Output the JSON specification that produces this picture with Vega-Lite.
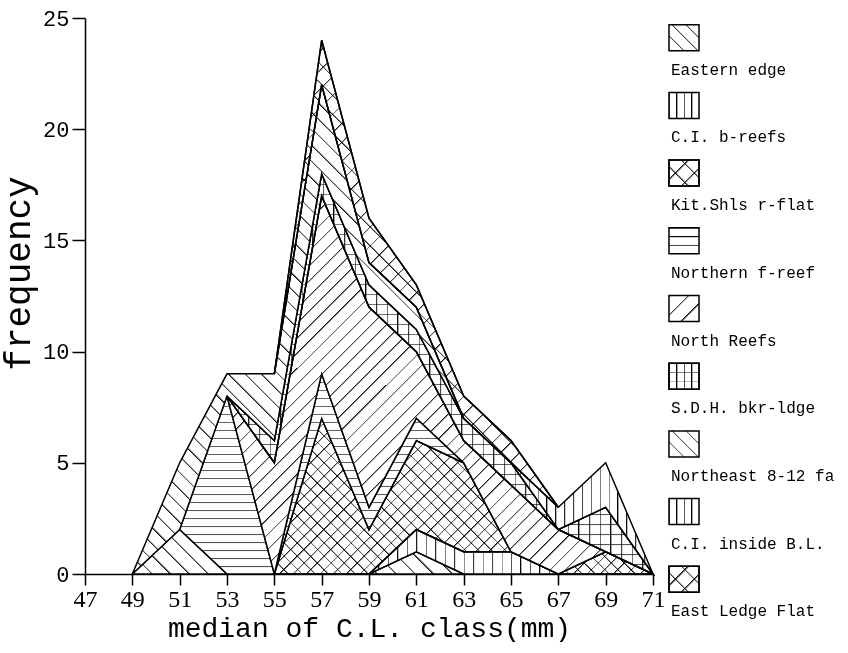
{
"$schema":"https://vega.github.io/schema/vega-lite/v6.json",
"background":"white",
"padding":{"left":0,"top":7,"right":0,"bottom":0},
"bounds":"flush",
"spacing":16,
"config":{"view":{"stroke":null},"font":"Liberation Mono"},
"datasets":{
"d":[
{"s":"Eastern edge","k":1,"x":49,"v":0},{"s":"Eastern edge","k":1,"x":51,"v":2},{"s":"Eastern edge","k":1,"x":53,"v":0},{"s":"Eastern edge","k":1,"x":55,"v":0},{"s":"Eastern edge","k":1,"x":57,"v":0},{"s":"Eastern edge","k":1,"x":59,"v":0},{"s":"Eastern edge","k":1,"x":61,"v":1},{"s":"Eastern edge","k":1,"x":63,"v":0},
{"s":"C.I. b-reefs","k":2,"x":59,"v":0},{"s":"C.I. b-reefs","k":2,"x":61,"v":1},{"s":"C.I. b-reefs","k":2,"x":63,"v":1},{"s":"C.I. b-reefs","k":2,"x":65,"v":1},{"s":"C.I. b-reefs","k":2,"x":67,"v":0},
{"s":"Kit.Shls r-flat","k":3,"x":55,"v":0},{"s":"Kit.Shls r-flat","k":3,"x":57,"v":7},{"s":"Kit.Shls r-flat","k":3,"x":59,"v":2},{"s":"Kit.Shls r-flat","k":3,"x":61,"v":4},{"s":"Kit.Shls r-flat","k":3,"x":63,"v":4},{"s":"Kit.Shls r-flat","k":3,"x":65,"v":0},{"s":"Kit.Shls r-flat","k":3,"x":67,"v":0},{"s":"Kit.Shls r-flat","k":3,"x":69,"v":1},{"s":"Kit.Shls r-flat","k":3,"x":71,"v":0},
{"s":"Northern f-reef","k":4,"x":51,"v":0},{"s":"Northern f-reef","k":4,"x":53,"v":8},{"s":"Northern f-reef","k":4,"x":55,"v":0},{"s":"Northern f-reef","k":4,"x":57,"v":2},{"s":"Northern f-reef","k":4,"x":59,"v":1},{"s":"Northern f-reef","k":4,"x":61,"v":1},{"s":"Northern f-reef","k":4,"x":63,"v":0},
{"s":"North Reefs","k":5,"x":53,"v":0},{"s":"North Reefs","k":5,"x":55,"v":5},{"s":"North Reefs","k":5,"x":57,"v":8},{"s":"North Reefs","k":5,"x":59,"v":9},{"s":"North Reefs","k":5,"x":61,"v":3},{"s":"North Reefs","k":5,"x":63,"v":1},{"s":"North Reefs","k":5,"x":65,"v":3},{"s":"North Reefs","k":5,"x":67,"v":2},{"s":"North Reefs","k":5,"x":69,"v":0},
{"s":"S.D.H. bkr-ldge","k":6,"x":53,"v":0},{"s":"S.D.H. bkr-ldge","k":6,"x":55,"v":1},{"s":"S.D.H. bkr-ldge","k":6,"x":57,"v":1},{"s":"S.D.H. bkr-ldge","k":6,"x":59,"v":1},{"s":"S.D.H. bkr-ldge","k":6,"x":61,"v":1},{"s":"S.D.H. bkr-ldge","k":6,"x":63,"v":1},{"s":"S.D.H. bkr-ldge","k":6,"x":65,"v":1},{"s":"S.D.H. bkr-ldge","k":6,"x":67,"v":0},{"s":"S.D.H. bkr-ldge","k":6,"x":69,"v":2},{"s":"S.D.H. bkr-ldge","k":6,"x":71,"v":0},
{"s":"Northeast 8-12 fa","k":7,"x":49,"v":0},{"s":"Northeast 8-12 fa","k":7,"x":51,"v":3},{"s":"Northeast 8-12 fa","k":7,"x":53,"v":1},{"s":"Northeast 8-12 fa","k":7,"x":55,"v":3},{"s":"Northeast 8-12 fa","k":7,"x":57,"v":4},{"s":"Northeast 8-12 fa","k":7,"x":59,"v":1},{"s":"Northeast 8-12 fa","k":7,"x":61,"v":1},{"s":"Northeast 8-12 fa","k":7,"x":63,"v":0},
{"s":"C.I. inside B.L.","k":8,"x":65,"v":0},{"s":"C.I. inside B.L.","k":8,"x":67,"v":1},{"s":"C.I. inside B.L.","k":8,"x":69,"v":2},{"s":"C.I. inside B.L.","k":8,"x":71,"v":0},
{"s":"East Ledge Flat","k":9,"x":55,"v":0},{"s":"East Ledge Flat","k":9,"x":57,"v":2},{"s":"East Ledge Flat","k":9,"x":59,"v":2},{"s":"East Ledge Flat","k":9,"x":61,"v":1},{"s":"East Ledge Flat","k":9,"x":63,"v":1},{"s":"East Ledge Flat","k":9,"x":65,"v":1},{"s":"East Ledge Flat","k":9,"x":67,"v":0}
],
"leg":[
{"s":"Eastern edge","k":1},{"s":"C.I. b-reefs","k":2},{"s":"Kit.Shls r-flat","k":3},{"s":"Northern f-reef","k":4},{"s":"North Reefs","k":5},{"s":"S.D.H. bkr-ldge","k":6},{"s":"Northeast 8-12 fa","k":7},{"s":"C.I. inside B.L.","k":8},{"s":"East Ledge Flat","k":9}
]
},
"hconcat":[
{
"width":568,"height":556,
"data":{"name":"d"},
"transform":[{"stack":"v","groupby":["x"],"sort":[{"field":"k","order":"ascending"}],"as":["y0","y1"]}],
"encoding":{
"x":{"field":"x","type":"quantitative","scale":{"domain":[47,71],"nice":false,"zero":false},
"axis":{"values":[47,49,51,53,55,57,59,61,63,65,67,69,71],"title":"median of C.L. class(mm)","grid":false,"tickSize":11,"tickWidth":1.5,"tickColor":"black","domainColor":"black","domainWidth":1.5,"labelPadding":2,"labelFont":"Liberation Serif","labelFontSize":24,"labelColor":"black","labelFlush":false,"titleFont":"Liberation Mono","titleFontSize":28,"titleFontWeight":"normal","titleColor":"black","titlePadding":3}},
"y":{"field":"y1","type":"quantitative","scale":{"domain":[0,25],"nice":false},
"axis":{"values":[0,5,10,15,20,25],"title":"frequency","titleY":255,"grid":false,"tickSize":13,"tickWidth":1.5,"tickColor":"black","domainColor":"black","domainWidth":1.5,"labelPadding":3,"labelFont":"Liberation Mono","labelFontSize":22,"labelColor":"black","labelFlush":false,"titleFont":"Liberation Mono","titleFontSize":36,"titleFontWeight":"normal","titleColor":"black","titlePadding":5}},
"y2":{"field":"y0"}
},
"layer":[
{"transform":[{"filter":{"field":"k","equal":1}}],"mark":{"type":"area","interpolate":"linear","stroke":"black","strokeWidth":1.5,"fill":{"gradient":"linear","x1":0,"y1":1,"x2":1.114,"y2":0.85,"stops":[
{"offset":0,"color":"#000"},{"offset":0.007,"color":"#fff"},{"offset":0.05,"color":"#fff"},{"offset":0.05,"color":"#000"},{"offset":0.057,"color":"#fff"},{"offset":0.1,"color":"#fff"},{"offset":0.1,"color":"#000"},{"offset":0.107,"color":"#fff"},{"offset":0.15,"color":"#fff"},{"offset":0.15,"color":"#000"},{"offset":0.157,"color":"#fff"},{"offset":0.2,"color":"#fff"},{"offset":0.2,"color":"#000"},{"offset":0.207,"color":"#fff"},{"offset":0.25,"color":"#fff"},{"offset":0.25,"color":"#000"},{"offset":0.257,"color":"#fff"},{"offset":0.3,"color":"#fff"},{"offset":0.3,"color":"#000"},{"offset":0.307,"color":"#fff"},{"offset":0.35,"color":"#fff"},{"offset":0.35,"color":"#000"},{"offset":0.357,"color":"#fff"},{"offset":0.4,"color":"#fff"},{"offset":0.4,"color":"#000"},{"offset":0.407,"color":"#fff"},{"offset":0.45,"color":"#fff"},{"offset":0.45,"color":"#000"},{"offset":0.457,"color":"#fff"},{"offset":0.5,"color":"#fff"},{"offset":0.5,"color":"#000"},{"offset":0.507,"color":"#fff"},{"offset":0.55,"color":"#fff"},{"offset":0.55,"color":"#000"},{"offset":0.557,"color":"#fff"},{"offset":0.6,"color":"#fff"},{"offset":0.6,"color":"#000"},{"offset":0.607,"color":"#fff"},{"offset":0.65,"color":"#fff"},{"offset":0.65,"color":"#000"},{"offset":0.657,"color":"#fff"},{"offset":0.7,"color":"#fff"},{"offset":0.7,"color":"#000"},{"offset":0.707,"color":"#fff"},{"offset":0.75,"color":"#fff"},{"offset":0.75,"color":"#000"},{"offset":0.757,"color":"#fff"},{"offset":0.8,"color":"#fff"},{"offset":0.8,"color":"#000"},{"offset":0.807,"color":"#fff"},{"offset":0.85,"color":"#fff"},{"offset":0.85,"color":"#000"},{"offset":0.857,"color":"#fff"},{"offset":0.9,"color":"#fff"},{"offset":0.9,"color":"#000"},{"offset":0.907,"color":"#fff"},{"offset":0.95,"color":"#fff"},{"offset":0.95,"color":"#000"},{"offset":0.957,"color":"#fff"},{"offset":1,"color":"#fff"}]}}},
{"transform":[{"filter":{"field":"k","equal":2}}],"mark":{"type":"area","interpolate":"linear","stroke":"black","strokeWidth":1.5,"fill":{"gradient":"linear","x1":0,"y1":0,"x2":1,"y2":0,"stops":[
{"offset":0,"color":"#000"},{"offset":0.008,"color":"#fff"},{"offset":0.05,"color":"#fff"},{"offset":0.05,"color":"#000"},{"offset":0.058,"color":"#fff"},{"offset":0.1,"color":"#fff"},{"offset":0.1,"color":"#000"},{"offset":0.108,"color":"#fff"},{"offset":0.15,"color":"#fff"},{"offset":0.15,"color":"#000"},{"offset":0.158,"color":"#fff"},{"offset":0.2,"color":"#fff"},{"offset":0.2,"color":"#000"},{"offset":0.208,"color":"#fff"},{"offset":0.25,"color":"#fff"},{"offset":0.25,"color":"#000"},{"offset":0.258,"color":"#fff"},{"offset":0.3,"color":"#fff"},{"offset":0.3,"color":"#000"},{"offset":0.308,"color":"#fff"},{"offset":0.35,"color":"#fff"},{"offset":0.35,"color":"#000"},{"offset":0.358,"color":"#fff"},{"offset":0.4,"color":"#fff"},{"offset":0.4,"color":"#000"},{"offset":0.408,"color":"#fff"},{"offset":0.45,"color":"#fff"},{"offset":0.45,"color":"#000"},{"offset":0.458,"color":"#fff"},{"offset":0.5,"color":"#fff"},{"offset":0.5,"color":"#000"},{"offset":0.508,"color":"#fff"},{"offset":0.55,"color":"#fff"},{"offset":0.55,"color":"#000"},{"offset":0.558,"color":"#fff"},{"offset":0.6,"color":"#fff"},{"offset":0.6,"color":"#000"},{"offset":0.608,"color":"#fff"},{"offset":0.65,"color":"#fff"},{"offset":0.65,"color":"#000"},{"offset":0.658,"color":"#fff"},{"offset":0.7,"color":"#fff"},{"offset":0.7,"color":"#000"},{"offset":0.708,"color":"#fff"},{"offset":0.75,"color":"#fff"},{"offset":0.75,"color":"#000"},{"offset":0.758,"color":"#fff"},{"offset":0.8,"color":"#fff"},{"offset":0.8,"color":"#000"},{"offset":0.808,"color":"#fff"},{"offset":0.85,"color":"#fff"},{"offset":0.85,"color":"#000"},{"offset":0.858,"color":"#fff"},{"offset":0.9,"color":"#fff"},{"offset":0.9,"color":"#000"},{"offset":0.908,"color":"#fff"},{"offset":0.95,"color":"#fff"},{"offset":0.95,"color":"#000"},{"offset":0.958,"color":"#fff"},{"offset":1,"color":"#fff"}]}}},
{"transform":[{"filter":{"field":"k","equal":3}}],"mark":{"type":"area","interpolate":"linear","stroke":"black","strokeWidth":1.5,"fill":{"gradient":"linear","x1":0,"y1":1,"x2":1.207,"y2":0.504,"stops":[
{"offset":0,"color":"#000"},{"offset":0.004,"color":"#fff"},{"offset":0.025,"color":"#fff"},{"offset":0.025,"color":"#000"},{"offset":0.029,"color":"#fff"},{"offset":0.05,"color":"#fff"},{"offset":0.05,"color":"#000"},{"offset":0.054,"color":"#fff"},{"offset":0.075,"color":"#fff"},{"offset":0.075,"color":"#000"},{"offset":0.079,"color":"#fff"},{"offset":0.1,"color":"#fff"},{"offset":0.1,"color":"#000"},{"offset":0.104,"color":"#fff"},{"offset":0.125,"color":"#fff"},{"offset":0.125,"color":"#000"},{"offset":0.129,"color":"#fff"},{"offset":0.15,"color":"#fff"},{"offset":0.15,"color":"#000"},{"offset":0.154,"color":"#fff"},{"offset":0.175,"color":"#fff"},{"offset":0.175,"color":"#000"},{"offset":0.179,"color":"#fff"},{"offset":0.2,"color":"#fff"},{"offset":0.2,"color":"#000"},{"offset":0.204,"color":"#fff"},{"offset":0.225,"color":"#fff"},{"offset":0.225,"color":"#000"},{"offset":0.229,"color":"#fff"},{"offset":0.25,"color":"#fff"},{"offset":0.25,"color":"#000"},{"offset":0.254,"color":"#fff"},{"offset":0.275,"color":"#fff"},{"offset":0.275,"color":"#000"},{"offset":0.279,"color":"#fff"},{"offset":0.3,"color":"#fff"},{"offset":0.3,"color":"#000"},{"offset":0.304,"color":"#fff"},{"offset":0.325,"color":"#fff"},{"offset":0.325,"color":"#000"},{"offset":0.329,"color":"#fff"},{"offset":0.35,"color":"#fff"},{"offset":0.35,"color":"#000"},{"offset":0.354,"color":"#fff"},{"offset":0.375,"color":"#fff"},{"offset":0.375,"color":"#000"},{"offset":0.379,"color":"#fff"},{"offset":0.4,"color":"#fff"},{"offset":0.4,"color":"#000"},{"offset":0.404,"color":"#fff"},{"offset":0.425,"color":"#fff"},{"offset":0.425,"color":"#000"},{"offset":0.429,"color":"#fff"},{"offset":0.45,"color":"#fff"},{"offset":0.45,"color":"#000"},{"offset":0.454,"color":"#fff"},{"offset":0.475,"color":"#fff"},{"offset":0.475,"color":"#000"},{"offset":0.479,"color":"#fff"},{"offset":0.5,"color":"#fff"},{"offset":0.5,"color":"#000"},{"offset":0.504,"color":"#fff"},{"offset":0.525,"color":"#fff"},{"offset":0.525,"color":"#000"},{"offset":0.529,"color":"#fff"},{"offset":0.55,"color":"#fff"},{"offset":0.55,"color":"#000"},{"offset":0.554,"color":"#fff"},{"offset":0.575,"color":"#fff"},{"offset":0.575,"color":"#000"},{"offset":0.579,"color":"#fff"},{"offset":0.6,"color":"#fff"},{"offset":0.6,"color":"#000"},{"offset":0.604,"color":"#fff"},{"offset":0.625,"color":"#fff"},{"offset":0.625,"color":"#000"},{"offset":0.629,"color":"#fff"},{"offset":0.65,"color":"#fff"},{"offset":0.65,"color":"#000"},{"offset":0.654,"color":"#fff"},{"offset":0.675,"color":"#fff"},{"offset":0.675,"color":"#000"},{"offset":0.679,"color":"#fff"},{"offset":0.7,"color":"#fff"},{"offset":0.7,"color":"#000"},{"offset":0.704,"color":"#fff"},{"offset":0.725,"color":"#fff"},{"offset":0.725,"color":"#000"},{"offset":0.729,"color":"#fff"},{"offset":0.75,"color":"#fff"},{"offset":0.75,"color":"#000"},{"offset":0.754,"color":"#fff"},{"offset":0.775,"color":"#fff"},{"offset":0.775,"color":"#000"},{"offset":0.779,"color":"#fff"},{"offset":0.8,"color":"#fff"},{"offset":0.8,"color":"#000"},{"offset":0.804,"color":"#fff"},{"offset":0.825,"color":"#fff"},{"offset":0.825,"color":"#000"},{"offset":0.829,"color":"#fff"},{"offset":0.85,"color":"#fff"},{"offset":0.85,"color":"#000"},{"offset":0.854,"color":"#fff"},{"offset":0.875,"color":"#fff"},{"offset":0.875,"color":"#000"},{"offset":0.879,"color":"#fff"},{"offset":0.9,"color":"#fff"},{"offset":0.9,"color":"#000"},{"offset":0.904,"color":"#fff"},{"offset":0.925,"color":"#fff"},{"offset":0.925,"color":"#000"},{"offset":0.929,"color":"#fff"},{"offset":0.95,"color":"#fff"},{"offset":0.95,"color":"#000"},{"offset":0.954,"color":"#fff"},{"offset":0.975,"color":"#fff"},{"offset":0.975,"color":"#000"},{"offset":0.979,"color":"#fff"},{"offset":1,"color":"#fff"}]}}},
{"transform":[{"filter":{"field":"k","equal":3}}],"mark":{"type":"area","interpolate":"linear","stroke":"black","strokeWidth":1.5,"blend":"multiply","fill":{"gradient":"linear","x1":0,"y1":0,"x2":1.207,"y2":0.496,"stops":[
{"offset":0,"color":"#000"},{"offset":0.004,"color":"#fff"},{"offset":0.025,"color":"#fff"},{"offset":0.025,"color":"#000"},{"offset":0.029,"color":"#fff"},{"offset":0.05,"color":"#fff"},{"offset":0.05,"color":"#000"},{"offset":0.054,"color":"#fff"},{"offset":0.075,"color":"#fff"},{"offset":0.075,"color":"#000"},{"offset":0.079,"color":"#fff"},{"offset":0.1,"color":"#fff"},{"offset":0.1,"color":"#000"},{"offset":0.104,"color":"#fff"},{"offset":0.125,"color":"#fff"},{"offset":0.125,"color":"#000"},{"offset":0.129,"color":"#fff"},{"offset":0.15,"color":"#fff"},{"offset":0.15,"color":"#000"},{"offset":0.154,"color":"#fff"},{"offset":0.175,"color":"#fff"},{"offset":0.175,"color":"#000"},{"offset":0.179,"color":"#fff"},{"offset":0.2,"color":"#fff"},{"offset":0.2,"color":"#000"},{"offset":0.204,"color":"#fff"},{"offset":0.225,"color":"#fff"},{"offset":0.225,"color":"#000"},{"offset":0.229,"color":"#fff"},{"offset":0.25,"color":"#fff"},{"offset":0.25,"color":"#000"},{"offset":0.254,"color":"#fff"},{"offset":0.275,"color":"#fff"},{"offset":0.275,"color":"#000"},{"offset":0.279,"color":"#fff"},{"offset":0.3,"color":"#fff"},{"offset":0.3,"color":"#000"},{"offset":0.304,"color":"#fff"},{"offset":0.325,"color":"#fff"},{"offset":0.325,"color":"#000"},{"offset":0.329,"color":"#fff"},{"offset":0.35,"color":"#fff"},{"offset":0.35,"color":"#000"},{"offset":0.354,"color":"#fff"},{"offset":0.375,"color":"#fff"},{"offset":0.375,"color":"#000"},{"offset":0.379,"color":"#fff"},{"offset":0.4,"color":"#fff"},{"offset":0.4,"color":"#000"},{"offset":0.404,"color":"#fff"},{"offset":0.425,"color":"#fff"},{"offset":0.425,"color":"#000"},{"offset":0.429,"color":"#fff"},{"offset":0.45,"color":"#fff"},{"offset":0.45,"color":"#000"},{"offset":0.454,"color":"#fff"},{"offset":0.475,"color":"#fff"},{"offset":0.475,"color":"#000"},{"offset":0.479,"color":"#fff"},{"offset":0.5,"color":"#fff"},{"offset":0.5,"color":"#000"},{"offset":0.504,"color":"#fff"},{"offset":0.525,"color":"#fff"},{"offset":0.525,"color":"#000"},{"offset":0.529,"color":"#fff"},{"offset":0.55,"color":"#fff"},{"offset":0.55,"color":"#000"},{"offset":0.554,"color":"#fff"},{"offset":0.575,"color":"#fff"},{"offset":0.575,"color":"#000"},{"offset":0.579,"color":"#fff"},{"offset":0.6,"color":"#fff"},{"offset":0.6,"color":"#000"},{"offset":0.604,"color":"#fff"},{"offset":0.625,"color":"#fff"},{"offset":0.625,"color":"#000"},{"offset":0.629,"color":"#fff"},{"offset":0.65,"color":"#fff"},{"offset":0.65,"color":"#000"},{"offset":0.654,"color":"#fff"},{"offset":0.675,"color":"#fff"},{"offset":0.675,"color":"#000"},{"offset":0.679,"color":"#fff"},{"offset":0.7,"color":"#fff"},{"offset":0.7,"color":"#000"},{"offset":0.704,"color":"#fff"},{"offset":0.725,"color":"#fff"},{"offset":0.725,"color":"#000"},{"offset":0.729,"color":"#fff"},{"offset":0.75,"color":"#fff"},{"offset":0.75,"color":"#000"},{"offset":0.754,"color":"#fff"},{"offset":0.775,"color":"#fff"},{"offset":0.775,"color":"#000"},{"offset":0.779,"color":"#fff"},{"offset":0.8,"color":"#fff"},{"offset":0.8,"color":"#000"},{"offset":0.804,"color":"#fff"},{"offset":0.825,"color":"#fff"},{"offset":0.825,"color":"#000"},{"offset":0.829,"color":"#fff"},{"offset":0.85,"color":"#fff"},{"offset":0.85,"color":"#000"},{"offset":0.854,"color":"#fff"},{"offset":0.875,"color":"#fff"},{"offset":0.875,"color":"#000"},{"offset":0.879,"color":"#fff"},{"offset":0.9,"color":"#fff"},{"offset":0.9,"color":"#000"},{"offset":0.904,"color":"#fff"},{"offset":0.925,"color":"#fff"},{"offset":0.925,"color":"#000"},{"offset":0.929,"color":"#fff"},{"offset":0.95,"color":"#fff"},{"offset":0.95,"color":"#000"},{"offset":0.954,"color":"#fff"},{"offset":0.975,"color":"#fff"},{"offset":0.975,"color":"#000"},{"offset":0.979,"color":"#fff"},{"offset":1,"color":"#fff"}]}}},
{"transform":[{"filter":{"field":"k","equal":4}}],"mark":{"type":"area","interpolate":"linear","stroke":"black","strokeWidth":1.5,"fill":{"gradient":"linear","x1":0,"y1":0,"x2":0,"y2":1,"stops":[
{"offset":0,"color":"#000"},{"offset":0.008,"color":"#fff"},{"offset":0.04,"color":"#fff"},{"offset":0.04,"color":"#000"},{"offset":0.048,"color":"#fff"},{"offset":0.08,"color":"#fff"},{"offset":0.08,"color":"#000"},{"offset":0.088,"color":"#fff"},{"offset":0.12,"color":"#fff"},{"offset":0.12,"color":"#000"},{"offset":0.128,"color":"#fff"},{"offset":0.16,"color":"#fff"},{"offset":0.16,"color":"#000"},{"offset":0.168,"color":"#fff"},{"offset":0.2,"color":"#fff"},{"offset":0.2,"color":"#000"},{"offset":0.208,"color":"#fff"},{"offset":0.24,"color":"#fff"},{"offset":0.24,"color":"#000"},{"offset":0.248,"color":"#fff"},{"offset":0.28,"color":"#fff"},{"offset":0.28,"color":"#000"},{"offset":0.288,"color":"#fff"},{"offset":0.32,"color":"#fff"},{"offset":0.32,"color":"#000"},{"offset":0.328,"color":"#fff"},{"offset":0.36,"color":"#fff"},{"offset":0.36,"color":"#000"},{"offset":0.368,"color":"#fff"},{"offset":0.4,"color":"#fff"},{"offset":0.4,"color":"#000"},{"offset":0.408,"color":"#fff"},{"offset":0.44,"color":"#fff"},{"offset":0.44,"color":"#000"},{"offset":0.448,"color":"#fff"},{"offset":0.48,"color":"#fff"},{"offset":0.48,"color":"#000"},{"offset":0.488,"color":"#fff"},{"offset":0.52,"color":"#fff"},{"offset":0.52,"color":"#000"},{"offset":0.528,"color":"#fff"},{"offset":0.56,"color":"#fff"},{"offset":0.56,"color":"#000"},{"offset":0.568,"color":"#fff"},{"offset":0.6,"color":"#fff"},{"offset":0.6,"color":"#000"},{"offset":0.608,"color":"#fff"},{"offset":0.64,"color":"#fff"},{"offset":0.64,"color":"#000"},{"offset":0.648,"color":"#fff"},{"offset":0.68,"color":"#fff"},{"offset":0.68,"color":"#000"},{"offset":0.688,"color":"#fff"},{"offset":0.72,"color":"#fff"},{"offset":0.72,"color":"#000"},{"offset":0.728,"color":"#fff"},{"offset":0.76,"color":"#fff"},{"offset":0.76,"color":"#000"},{"offset":0.768,"color":"#fff"},{"offset":0.8,"color":"#fff"},{"offset":0.8,"color":"#000"},{"offset":0.808,"color":"#fff"},{"offset":0.84,"color":"#fff"},{"offset":0.84,"color":"#000"},{"offset":0.848,"color":"#fff"},{"offset":0.88,"color":"#fff"},{"offset":0.88,"color":"#000"},{"offset":0.888,"color":"#fff"},{"offset":0.92,"color":"#fff"},{"offset":0.92,"color":"#000"},{"offset":0.928,"color":"#fff"},{"offset":0.96,"color":"#fff"},{"offset":0.96,"color":"#000"},{"offset":0.968,"color":"#fff"},{"offset":1,"color":"#fff"}]}}},
{"transform":[{"filter":{"field":"k","equal":5}}],"mark":{"type":"area","interpolate":"linear","stroke":"black","strokeWidth":1.5,"fill":{"gradient":"linear","x1":0,"y1":0,"x2":1,"y2":1,"stops":[
{"offset":0,"color":"#000"},{"offset":0.003,"color":"#fff"},{"offset":0.02,"color":"#fff"},{"offset":0.02,"color":"#000"},{"offset":0.023,"color":"#fff"},{"offset":0.04,"color":"#fff"},{"offset":0.04,"color":"#000"},{"offset":0.043,"color":"#fff"},{"offset":0.06,"color":"#fff"},{"offset":0.06,"color":"#000"},{"offset":0.063,"color":"#fff"},{"offset":0.08,"color":"#fff"},{"offset":0.08,"color":"#000"},{"offset":0.083,"color":"#fff"},{"offset":0.1,"color":"#fff"},{"offset":0.1,"color":"#000"},{"offset":0.103,"color":"#fff"},{"offset":0.12,"color":"#fff"},{"offset":0.12,"color":"#000"},{"offset":0.123,"color":"#fff"},{"offset":0.14,"color":"#fff"},{"offset":0.14,"color":"#000"},{"offset":0.143,"color":"#fff"},{"offset":0.16,"color":"#fff"},{"offset":0.16,"color":"#000"},{"offset":0.163,"color":"#fff"},{"offset":0.18,"color":"#fff"},{"offset":0.18,"color":"#000"},{"offset":0.183,"color":"#fff"},{"offset":0.2,"color":"#fff"},{"offset":0.2,"color":"#000"},{"offset":0.203,"color":"#fff"},{"offset":0.22,"color":"#fff"},{"offset":0.22,"color":"#000"},{"offset":0.223,"color":"#fff"},{"offset":0.24,"color":"#fff"},{"offset":0.24,"color":"#000"},{"offset":0.243,"color":"#fff"},{"offset":0.26,"color":"#fff"},{"offset":0.26,"color":"#000"},{"offset":0.263,"color":"#fff"},{"offset":0.28,"color":"#fff"},{"offset":0.28,"color":"#000"},{"offset":0.283,"color":"#fff"},{"offset":0.3,"color":"#fff"},{"offset":0.3,"color":"#000"},{"offset":0.303,"color":"#fff"},{"offset":0.32,"color":"#fff"},{"offset":0.32,"color":"#000"},{"offset":0.323,"color":"#fff"},{"offset":0.34,"color":"#fff"},{"offset":0.34,"color":"#000"},{"offset":0.343,"color":"#fff"},{"offset":0.36,"color":"#fff"},{"offset":0.36,"color":"#000"},{"offset":0.363,"color":"#fff"},{"offset":0.38,"color":"#fff"},{"offset":0.38,"color":"#000"},{"offset":0.383,"color":"#fff"},{"offset":0.4,"color":"#fff"},{"offset":0.4,"color":"#000"},{"offset":0.403,"color":"#fff"},{"offset":0.42,"color":"#fff"},{"offset":0.42,"color":"#000"},{"offset":0.423,"color":"#fff"},{"offset":0.44,"color":"#fff"},{"offset":0.44,"color":"#000"},{"offset":0.443,"color":"#fff"},{"offset":0.46,"color":"#fff"},{"offset":0.46,"color":"#000"},{"offset":0.463,"color":"#fff"},{"offset":0.48,"color":"#fff"},{"offset":0.48,"color":"#000"},{"offset":0.483,"color":"#fff"},{"offset":0.5,"color":"#fff"},{"offset":0.5,"color":"#000"},{"offset":0.503,"color":"#fff"},{"offset":0.52,"color":"#fff"},{"offset":0.52,"color":"#000"},{"offset":0.523,"color":"#fff"},{"offset":0.54,"color":"#fff"},{"offset":0.54,"color":"#000"},{"offset":0.543,"color":"#fff"},{"offset":0.56,"color":"#fff"},{"offset":0.56,"color":"#000"},{"offset":0.563,"color":"#fff"},{"offset":0.58,"color":"#fff"},{"offset":0.58,"color":"#000"},{"offset":0.583,"color":"#fff"},{"offset":0.6,"color":"#fff"},{"offset":0.6,"color":"#000"},{"offset":0.603,"color":"#fff"},{"offset":0.62,"color":"#fff"},{"offset":0.62,"color":"#000"},{"offset":0.623,"color":"#fff"},{"offset":0.64,"color":"#fff"},{"offset":0.64,"color":"#000"},{"offset":0.643,"color":"#fff"},{"offset":0.66,"color":"#fff"},{"offset":0.66,"color":"#000"},{"offset":0.663,"color":"#fff"},{"offset":0.68,"color":"#fff"},{"offset":0.68,"color":"#000"},{"offset":0.683,"color":"#fff"},{"offset":0.7,"color":"#fff"},{"offset":0.7,"color":"#000"},{"offset":0.703,"color":"#fff"},{"offset":0.72,"color":"#fff"},{"offset":0.72,"color":"#000"},{"offset":0.723,"color":"#fff"},{"offset":0.74,"color":"#fff"},{"offset":0.74,"color":"#000"},{"offset":0.743,"color":"#fff"},{"offset":0.76,"color":"#fff"},{"offset":0.76,"color":"#000"},{"offset":0.763,"color":"#fff"},{"offset":0.78,"color":"#fff"},{"offset":0.78,"color":"#000"},{"offset":0.783,"color":"#fff"},{"offset":0.8,"color":"#fff"},{"offset":0.8,"color":"#000"},{"offset":0.803,"color":"#fff"},{"offset":0.82,"color":"#fff"},{"offset":0.82,"color":"#000"},{"offset":0.823,"color":"#fff"},{"offset":0.84,"color":"#fff"},{"offset":0.84,"color":"#000"},{"offset":0.843,"color":"#fff"},{"offset":0.86,"color":"#fff"},{"offset":0.86,"color":"#000"},{"offset":0.863,"color":"#fff"},{"offset":0.88,"color":"#fff"},{"offset":0.88,"color":"#000"},{"offset":0.883,"color":"#fff"},{"offset":0.9,"color":"#fff"},{"offset":0.9,"color":"#000"},{"offset":0.903,"color":"#fff"},{"offset":0.92,"color":"#fff"},{"offset":0.92,"color":"#000"},{"offset":0.923,"color":"#fff"},{"offset":0.94,"color":"#fff"},{"offset":0.94,"color":"#000"},{"offset":0.943,"color":"#fff"},{"offset":0.96,"color":"#fff"},{"offset":0.96,"color":"#000"},{"offset":0.963,"color":"#fff"},{"offset":0.98,"color":"#fff"},{"offset":0.98,"color":"#000"},{"offset":0.983,"color":"#fff"},{"offset":1,"color":"#fff"}]}}},
{"transform":[{"filter":{"field":"k","equal":6}}],"mark":{"type":"area","interpolate":"linear","stroke":"black","strokeWidth":1.5,"fill":{"gradient":"linear","x1":0,"y1":0,"x2":0,"y2":1,"stops":[
{"offset":0,"color":"#000"},{"offset":0.004,"color":"#fff"},{"offset":0.025,"color":"#fff"},{"offset":0.025,"color":"#000"},{"offset":0.029,"color":"#fff"},{"offset":0.05,"color":"#fff"},{"offset":0.05,"color":"#000"},{"offset":0.054,"color":"#fff"},{"offset":0.075,"color":"#fff"},{"offset":0.075,"color":"#000"},{"offset":0.079,"color":"#fff"},{"offset":0.1,"color":"#fff"},{"offset":0.1,"color":"#000"},{"offset":0.104,"color":"#fff"},{"offset":0.125,"color":"#fff"},{"offset":0.125,"color":"#000"},{"offset":0.129,"color":"#fff"},{"offset":0.15,"color":"#fff"},{"offset":0.15,"color":"#000"},{"offset":0.154,"color":"#fff"},{"offset":0.175,"color":"#fff"},{"offset":0.175,"color":"#000"},{"offset":0.179,"color":"#fff"},{"offset":0.2,"color":"#fff"},{"offset":0.2,"color":"#000"},{"offset":0.204,"color":"#fff"},{"offset":0.225,"color":"#fff"},{"offset":0.225,"color":"#000"},{"offset":0.229,"color":"#fff"},{"offset":0.25,"color":"#fff"},{"offset":0.25,"color":"#000"},{"offset":0.254,"color":"#fff"},{"offset":0.275,"color":"#fff"},{"offset":0.275,"color":"#000"},{"offset":0.279,"color":"#fff"},{"offset":0.3,"color":"#fff"},{"offset":0.3,"color":"#000"},{"offset":0.304,"color":"#fff"},{"offset":0.325,"color":"#fff"},{"offset":0.325,"color":"#000"},{"offset":0.329,"color":"#fff"},{"offset":0.35,"color":"#fff"},{"offset":0.35,"color":"#000"},{"offset":0.354,"color":"#fff"},{"offset":0.375,"color":"#fff"},{"offset":0.375,"color":"#000"},{"offset":0.379,"color":"#fff"},{"offset":0.4,"color":"#fff"},{"offset":0.4,"color":"#000"},{"offset":0.404,"color":"#fff"},{"offset":0.425,"color":"#fff"},{"offset":0.425,"color":"#000"},{"offset":0.429,"color":"#fff"},{"offset":0.45,"color":"#fff"},{"offset":0.45,"color":"#000"},{"offset":0.454,"color":"#fff"},{"offset":0.475,"color":"#fff"},{"offset":0.475,"color":"#000"},{"offset":0.479,"color":"#fff"},{"offset":0.5,"color":"#fff"},{"offset":0.5,"color":"#000"},{"offset":0.504,"color":"#fff"},{"offset":0.525,"color":"#fff"},{"offset":0.525,"color":"#000"},{"offset":0.529,"color":"#fff"},{"offset":0.55,"color":"#fff"},{"offset":0.55,"color":"#000"},{"offset":0.554,"color":"#fff"},{"offset":0.575,"color":"#fff"},{"offset":0.575,"color":"#000"},{"offset":0.579,"color":"#fff"},{"offset":0.6,"color":"#fff"},{"offset":0.6,"color":"#000"},{"offset":0.604,"color":"#fff"},{"offset":0.625,"color":"#fff"},{"offset":0.625,"color":"#000"},{"offset":0.629,"color":"#fff"},{"offset":0.65,"color":"#fff"},{"offset":0.65,"color":"#000"},{"offset":0.654,"color":"#fff"},{"offset":0.675,"color":"#fff"},{"offset":0.675,"color":"#000"},{"offset":0.679,"color":"#fff"},{"offset":0.7,"color":"#fff"},{"offset":0.7,"color":"#000"},{"offset":0.704,"color":"#fff"},{"offset":0.725,"color":"#fff"},{"offset":0.725,"color":"#000"},{"offset":0.729,"color":"#fff"},{"offset":0.75,"color":"#fff"},{"offset":0.75,"color":"#000"},{"offset":0.754,"color":"#fff"},{"offset":0.775,"color":"#fff"},{"offset":0.775,"color":"#000"},{"offset":0.779,"color":"#fff"},{"offset":0.8,"color":"#fff"},{"offset":0.8,"color":"#000"},{"offset":0.804,"color":"#fff"},{"offset":0.825,"color":"#fff"},{"offset":0.825,"color":"#000"},{"offset":0.829,"color":"#fff"},{"offset":0.85,"color":"#fff"},{"offset":0.85,"color":"#000"},{"offset":0.854,"color":"#fff"},{"offset":0.875,"color":"#fff"},{"offset":0.875,"color":"#000"},{"offset":0.879,"color":"#fff"},{"offset":0.9,"color":"#fff"},{"offset":0.9,"color":"#000"},{"offset":0.904,"color":"#fff"},{"offset":0.925,"color":"#fff"},{"offset":0.925,"color":"#000"},{"offset":0.929,"color":"#fff"},{"offset":0.95,"color":"#fff"},{"offset":0.95,"color":"#000"},{"offset":0.954,"color":"#fff"},{"offset":0.975,"color":"#fff"},{"offset":0.975,"color":"#000"},{"offset":0.979,"color":"#fff"},{"offset":1,"color":"#fff"}]}}},
{"transform":[{"filter":{"field":"k","equal":6}}],"mark":{"type":"area","interpolate":"linear","stroke":"black","strokeWidth":1.5,"blend":"multiply","fill":{"gradient":"linear","x1":0,"y1":0,"x2":1,"y2":0,"stops":[
{"offset":0,"color":"#000"},{"offset":0.004,"color":"#fff"},{"offset":0.025,"color":"#fff"},{"offset":0.025,"color":"#000"},{"offset":0.029,"color":"#fff"},{"offset":0.05,"color":"#fff"},{"offset":0.05,"color":"#000"},{"offset":0.054,"color":"#fff"},{"offset":0.075,"color":"#fff"},{"offset":0.075,"color":"#000"},{"offset":0.079,"color":"#fff"},{"offset":0.1,"color":"#fff"},{"offset":0.1,"color":"#000"},{"offset":0.104,"color":"#fff"},{"offset":0.125,"color":"#fff"},{"offset":0.125,"color":"#000"},{"offset":0.129,"color":"#fff"},{"offset":0.15,"color":"#fff"},{"offset":0.15,"color":"#000"},{"offset":0.154,"color":"#fff"},{"offset":0.175,"color":"#fff"},{"offset":0.175,"color":"#000"},{"offset":0.179,"color":"#fff"},{"offset":0.2,"color":"#fff"},{"offset":0.2,"color":"#000"},{"offset":0.204,"color":"#fff"},{"offset":0.225,"color":"#fff"},{"offset":0.225,"color":"#000"},{"offset":0.229,"color":"#fff"},{"offset":0.25,"color":"#fff"},{"offset":0.25,"color":"#000"},{"offset":0.254,"color":"#fff"},{"offset":0.275,"color":"#fff"},{"offset":0.275,"color":"#000"},{"offset":0.279,"color":"#fff"},{"offset":0.3,"color":"#fff"},{"offset":0.3,"color":"#000"},{"offset":0.304,"color":"#fff"},{"offset":0.325,"color":"#fff"},{"offset":0.325,"color":"#000"},{"offset":0.329,"color":"#fff"},{"offset":0.35,"color":"#fff"},{"offset":0.35,"color":"#000"},{"offset":0.354,"color":"#fff"},{"offset":0.375,"color":"#fff"},{"offset":0.375,"color":"#000"},{"offset":0.379,"color":"#fff"},{"offset":0.4,"color":"#fff"},{"offset":0.4,"color":"#000"},{"offset":0.404,"color":"#fff"},{"offset":0.425,"color":"#fff"},{"offset":0.425,"color":"#000"},{"offset":0.429,"color":"#fff"},{"offset":0.45,"color":"#fff"},{"offset":0.45,"color":"#000"},{"offset":0.454,"color":"#fff"},{"offset":0.475,"color":"#fff"},{"offset":0.475,"color":"#000"},{"offset":0.479,"color":"#fff"},{"offset":0.5,"color":"#fff"},{"offset":0.5,"color":"#000"},{"offset":0.504,"color":"#fff"},{"offset":0.525,"color":"#fff"},{"offset":0.525,"color":"#000"},{"offset":0.529,"color":"#fff"},{"offset":0.55,"color":"#fff"},{"offset":0.55,"color":"#000"},{"offset":0.554,"color":"#fff"},{"offset":0.575,"color":"#fff"},{"offset":0.575,"color":"#000"},{"offset":0.579,"color":"#fff"},{"offset":0.6,"color":"#fff"},{"offset":0.6,"color":"#000"},{"offset":0.604,"color":"#fff"},{"offset":0.625,"color":"#fff"},{"offset":0.625,"color":"#000"},{"offset":0.629,"color":"#fff"},{"offset":0.65,"color":"#fff"},{"offset":0.65,"color":"#000"},{"offset":0.654,"color":"#fff"},{"offset":0.675,"color":"#fff"},{"offset":0.675,"color":"#000"},{"offset":0.679,"color":"#fff"},{"offset":0.7,"color":"#fff"},{"offset":0.7,"color":"#000"},{"offset":0.704,"color":"#fff"},{"offset":0.725,"color":"#fff"},{"offset":0.725,"color":"#000"},{"offset":0.729,"color":"#fff"},{"offset":0.75,"color":"#fff"},{"offset":0.75,"color":"#000"},{"offset":0.754,"color":"#fff"},{"offset":0.775,"color":"#fff"},{"offset":0.775,"color":"#000"},{"offset":0.779,"color":"#fff"},{"offset":0.8,"color":"#fff"},{"offset":0.8,"color":"#000"},{"offset":0.804,"color":"#fff"},{"offset":0.825,"color":"#fff"},{"offset":0.825,"color":"#000"},{"offset":0.829,"color":"#fff"},{"offset":0.85,"color":"#fff"},{"offset":0.85,"color":"#000"},{"offset":0.854,"color":"#fff"},{"offset":0.875,"color":"#fff"},{"offset":0.875,"color":"#000"},{"offset":0.879,"color":"#fff"},{"offset":0.9,"color":"#fff"},{"offset":0.9,"color":"#000"},{"offset":0.904,"color":"#fff"},{"offset":0.925,"color":"#fff"},{"offset":0.925,"color":"#000"},{"offset":0.929,"color":"#fff"},{"offset":0.95,"color":"#fff"},{"offset":0.95,"color":"#000"},{"offset":0.954,"color":"#fff"},{"offset":0.975,"color":"#fff"},{"offset":0.975,"color":"#000"},{"offset":0.979,"color":"#fff"},{"offset":1,"color":"#fff"}]}}},
{"transform":[{"filter":{"field":"k","equal":7}}],"mark":{"type":"area","interpolate":"linear","stroke":"black","strokeWidth":1.5,"fill":{"gradient":"linear","x1":0,"y1":1,"x2":0.779,"y2":-0.15,"stops":[
{"offset":0,"color":"#000"},{"offset":0.003,"color":"#fff"},{"offset":0.02,"color":"#fff"},{"offset":0.02,"color":"#000"},{"offset":0.023,"color":"#fff"},{"offset":0.04,"color":"#fff"},{"offset":0.04,"color":"#000"},{"offset":0.043,"color":"#fff"},{"offset":0.06,"color":"#fff"},{"offset":0.06,"color":"#000"},{"offset":0.063,"color":"#fff"},{"offset":0.08,"color":"#fff"},{"offset":0.08,"color":"#000"},{"offset":0.083,"color":"#fff"},{"offset":0.1,"color":"#fff"},{"offset":0.1,"color":"#000"},{"offset":0.103,"color":"#fff"},{"offset":0.12,"color":"#fff"},{"offset":0.12,"color":"#000"},{"offset":0.123,"color":"#fff"},{"offset":0.14,"color":"#fff"},{"offset":0.14,"color":"#000"},{"offset":0.143,"color":"#fff"},{"offset":0.16,"color":"#fff"},{"offset":0.16,"color":"#000"},{"offset":0.163,"color":"#fff"},{"offset":0.18,"color":"#fff"},{"offset":0.18,"color":"#000"},{"offset":0.183,"color":"#fff"},{"offset":0.2,"color":"#fff"},{"offset":0.2,"color":"#000"},{"offset":0.203,"color":"#fff"},{"offset":0.22,"color":"#fff"},{"offset":0.22,"color":"#000"},{"offset":0.223,"color":"#fff"},{"offset":0.24,"color":"#fff"},{"offset":0.24,"color":"#000"},{"offset":0.243,"color":"#fff"},{"offset":0.26,"color":"#fff"},{"offset":0.26,"color":"#000"},{"offset":0.263,"color":"#fff"},{"offset":0.28,"color":"#fff"},{"offset":0.28,"color":"#000"},{"offset":0.283,"color":"#fff"},{"offset":0.3,"color":"#fff"},{"offset":0.3,"color":"#000"},{"offset":0.303,"color":"#fff"},{"offset":0.32,"color":"#fff"},{"offset":0.32,"color":"#000"},{"offset":0.323,"color":"#fff"},{"offset":0.34,"color":"#fff"},{"offset":0.34,"color":"#000"},{"offset":0.343,"color":"#fff"},{"offset":0.36,"color":"#fff"},{"offset":0.36,"color":"#000"},{"offset":0.363,"color":"#fff"},{"offset":0.38,"color":"#fff"},{"offset":0.38,"color":"#000"},{"offset":0.383,"color":"#fff"},{"offset":0.4,"color":"#fff"},{"offset":0.4,"color":"#000"},{"offset":0.403,"color":"#fff"},{"offset":0.42,"color":"#fff"},{"offset":0.42,"color":"#000"},{"offset":0.423,"color":"#fff"},{"offset":0.44,"color":"#fff"},{"offset":0.44,"color":"#000"},{"offset":0.443,"color":"#fff"},{"offset":0.46,"color":"#fff"},{"offset":0.46,"color":"#000"},{"offset":0.463,"color":"#fff"},{"offset":0.48,"color":"#fff"},{"offset":0.48,"color":"#000"},{"offset":0.483,"color":"#fff"},{"offset":0.5,"color":"#fff"},{"offset":0.5,"color":"#000"},{"offset":0.503,"color":"#fff"},{"offset":0.52,"color":"#fff"},{"offset":0.52,"color":"#000"},{"offset":0.523,"color":"#fff"},{"offset":0.54,"color":"#fff"},{"offset":0.54,"color":"#000"},{"offset":0.543,"color":"#fff"},{"offset":0.56,"color":"#fff"},{"offset":0.56,"color":"#000"},{"offset":0.563,"color":"#fff"},{"offset":0.58,"color":"#fff"},{"offset":0.58,"color":"#000"},{"offset":0.583,"color":"#fff"},{"offset":0.6,"color":"#fff"},{"offset":0.6,"color":"#000"},{"offset":0.603,"color":"#fff"},{"offset":0.62,"color":"#fff"},{"offset":0.62,"color":"#000"},{"offset":0.623,"color":"#fff"},{"offset":0.64,"color":"#fff"},{"offset":0.64,"color":"#000"},{"offset":0.643,"color":"#fff"},{"offset":0.66,"color":"#fff"},{"offset":0.66,"color":"#000"},{"offset":0.663,"color":"#fff"},{"offset":0.68,"color":"#fff"},{"offset":0.68,"color":"#000"},{"offset":0.683,"color":"#fff"},{"offset":0.7,"color":"#fff"},{"offset":0.7,"color":"#000"},{"offset":0.703,"color":"#fff"},{"offset":0.72,"color":"#fff"},{"offset":0.72,"color":"#000"},{"offset":0.723,"color":"#fff"},{"offset":0.74,"color":"#fff"},{"offset":0.74,"color":"#000"},{"offset":0.743,"color":"#fff"},{"offset":0.76,"color":"#fff"},{"offset":0.76,"color":"#000"},{"offset":0.763,"color":"#fff"},{"offset":0.78,"color":"#fff"},{"offset":0.78,"color":"#000"},{"offset":0.783,"color":"#fff"},{"offset":0.8,"color":"#fff"},{"offset":0.8,"color":"#000"},{"offset":0.803,"color":"#fff"},{"offset":0.82,"color":"#fff"},{"offset":0.82,"color":"#000"},{"offset":0.823,"color":"#fff"},{"offset":0.84,"color":"#fff"},{"offset":0.84,"color":"#000"},{"offset":0.843,"color":"#fff"},{"offset":0.86,"color":"#fff"},{"offset":0.86,"color":"#000"},{"offset":0.863,"color":"#fff"},{"offset":0.88,"color":"#fff"},{"offset":0.88,"color":"#000"},{"offset":0.883,"color":"#fff"},{"offset":0.9,"color":"#fff"},{"offset":0.9,"color":"#000"},{"offset":0.903,"color":"#fff"},{"offset":0.92,"color":"#fff"},{"offset":0.92,"color":"#000"},{"offset":0.923,"color":"#fff"},{"offset":0.94,"color":"#fff"},{"offset":0.94,"color":"#000"},{"offset":0.943,"color":"#fff"},{"offset":0.96,"color":"#fff"},{"offset":0.96,"color":"#000"},{"offset":0.963,"color":"#fff"},{"offset":0.98,"color":"#fff"},{"offset":0.98,"color":"#000"},{"offset":0.983,"color":"#fff"},{"offset":1,"color":"#fff"}]}}},
{"transform":[{"filter":{"field":"k","equal":8}}],"mark":{"type":"area","interpolate":"linear","stroke":"black","strokeWidth":1.5,"fill":{"gradient":"linear","x1":0,"y1":0,"x2":1,"y2":0,"stops":[
{"offset":0,"color":"#000"},{"offset":0.011,"color":"#fff"},{"offset":0.0625,"color":"#fff"},{"offset":0.0625,"color":"#000"},{"offset":0.0735,"color":"#fff"},{"offset":0.125,"color":"#fff"},{"offset":0.125,"color":"#000"},{"offset":0.136,"color":"#fff"},{"offset":0.1875,"color":"#fff"},{"offset":0.1875,"color":"#000"},{"offset":0.1985,"color":"#fff"},{"offset":0.25,"color":"#fff"},{"offset":0.25,"color":"#000"},{"offset":0.261,"color":"#fff"},{"offset":0.3125,"color":"#fff"},{"offset":0.3125,"color":"#000"},{"offset":0.3235,"color":"#fff"},{"offset":0.375,"color":"#fff"},{"offset":0.375,"color":"#000"},{"offset":0.386,"color":"#fff"},{"offset":0.4375,"color":"#fff"},{"offset":0.4375,"color":"#000"},{"offset":0.4485,"color":"#fff"},{"offset":0.5,"color":"#fff"},{"offset":0.5,"color":"#000"},{"offset":0.511,"color":"#fff"},{"offset":0.5625,"color":"#fff"},{"offset":0.5625,"color":"#000"},{"offset":0.5735,"color":"#fff"},{"offset":0.625,"color":"#fff"},{"offset":0.625,"color":"#000"},{"offset":0.636,"color":"#fff"},{"offset":0.6875,"color":"#fff"},{"offset":0.6875,"color":"#000"},{"offset":0.6985,"color":"#fff"},{"offset":0.75,"color":"#fff"},{"offset":0.75,"color":"#000"},{"offset":0.761,"color":"#fff"},{"offset":0.8125,"color":"#fff"},{"offset":0.8125,"color":"#000"},{"offset":0.8235,"color":"#fff"},{"offset":0.875,"color":"#fff"},{"offset":0.875,"color":"#000"},{"offset":0.886,"color":"#fff"},{"offset":0.9375,"color":"#fff"},{"offset":0.9375,"color":"#000"},{"offset":0.9485,"color":"#fff"},{"offset":1,"color":"#fff"}]}}},
{"transform":[{"filter":{"field":"k","equal":9}}],"mark":{"type":"area","interpolate":"linear","stroke":"black","strokeWidth":1.5,"fill":{"gradient":"linear","x1":0,"y1":1,"x2":0.714,"y2":-0.174,"stops":[
{"offset":0,"color":"#000"},{"offset":0.003,"color":"#fff"},{"offset":0.025,"color":"#fff"},{"offset":0.025,"color":"#000"},{"offset":0.028,"color":"#fff"},{"offset":0.05,"color":"#fff"},{"offset":0.05,"color":"#000"},{"offset":0.053,"color":"#fff"},{"offset":0.075,"color":"#fff"},{"offset":0.075,"color":"#000"},{"offset":0.078,"color":"#fff"},{"offset":0.1,"color":"#fff"},{"offset":0.1,"color":"#000"},{"offset":0.103,"color":"#fff"},{"offset":0.125,"color":"#fff"},{"offset":0.125,"color":"#000"},{"offset":0.128,"color":"#fff"},{"offset":0.15,"color":"#fff"},{"offset":0.15,"color":"#000"},{"offset":0.153,"color":"#fff"},{"offset":0.175,"color":"#fff"},{"offset":0.175,"color":"#000"},{"offset":0.178,"color":"#fff"},{"offset":0.2,"color":"#fff"},{"offset":0.2,"color":"#000"},{"offset":0.203,"color":"#fff"},{"offset":0.225,"color":"#fff"},{"offset":0.225,"color":"#000"},{"offset":0.228,"color":"#fff"},{"offset":0.25,"color":"#fff"},{"offset":0.25,"color":"#000"},{"offset":0.253,"color":"#fff"},{"offset":0.275,"color":"#fff"},{"offset":0.275,"color":"#000"},{"offset":0.278,"color":"#fff"},{"offset":0.3,"color":"#fff"},{"offset":0.3,"color":"#000"},{"offset":0.303,"color":"#fff"},{"offset":0.325,"color":"#fff"},{"offset":0.325,"color":"#000"},{"offset":0.328,"color":"#fff"},{"offset":0.35,"color":"#fff"},{"offset":0.35,"color":"#000"},{"offset":0.353,"color":"#fff"},{"offset":0.375,"color":"#fff"},{"offset":0.375,"color":"#000"},{"offset":0.378,"color":"#fff"},{"offset":0.4,"color":"#fff"},{"offset":0.4,"color":"#000"},{"offset":0.403,"color":"#fff"},{"offset":0.425,"color":"#fff"},{"offset":0.425,"color":"#000"},{"offset":0.428,"color":"#fff"},{"offset":0.45,"color":"#fff"},{"offset":0.45,"color":"#000"},{"offset":0.453,"color":"#fff"},{"offset":0.475,"color":"#fff"},{"offset":0.475,"color":"#000"},{"offset":0.478,"color":"#fff"},{"offset":0.5,"color":"#fff"},{"offset":0.5,"color":"#000"},{"offset":0.503,"color":"#fff"},{"offset":0.525,"color":"#fff"},{"offset":0.525,"color":"#000"},{"offset":0.528,"color":"#fff"},{"offset":0.55,"color":"#fff"},{"offset":0.55,"color":"#000"},{"offset":0.553,"color":"#fff"},{"offset":0.575,"color":"#fff"},{"offset":0.575,"color":"#000"},{"offset":0.578,"color":"#fff"},{"offset":0.6,"color":"#fff"},{"offset":0.6,"color":"#000"},{"offset":0.603,"color":"#fff"},{"offset":0.625,"color":"#fff"},{"offset":0.625,"color":"#000"},{"offset":0.628,"color":"#fff"},{"offset":0.65,"color":"#fff"},{"offset":0.65,"color":"#000"},{"offset":0.653,"color":"#fff"},{"offset":0.675,"color":"#fff"},{"offset":0.675,"color":"#000"},{"offset":0.678,"color":"#fff"},{"offset":0.7,"color":"#fff"},{"offset":0.7,"color":"#000"},{"offset":0.703,"color":"#fff"},{"offset":0.725,"color":"#fff"},{"offset":0.725,"color":"#000"},{"offset":0.728,"color":"#fff"},{"offset":0.75,"color":"#fff"},{"offset":0.75,"color":"#000"},{"offset":0.753,"color":"#fff"},{"offset":0.775,"color":"#fff"},{"offset":0.775,"color":"#000"},{"offset":0.778,"color":"#fff"},{"offset":0.8,"color":"#fff"},{"offset":0.8,"color":"#000"},{"offset":0.803,"color":"#fff"},{"offset":0.825,"color":"#fff"},{"offset":0.825,"color":"#000"},{"offset":0.828,"color":"#fff"},{"offset":0.85,"color":"#fff"},{"offset":0.85,"color":"#000"},{"offset":0.853,"color":"#fff"},{"offset":0.875,"color":"#fff"},{"offset":0.875,"color":"#000"},{"offset":0.878,"color":"#fff"},{"offset":0.9,"color":"#fff"},{"offset":0.9,"color":"#000"},{"offset":0.903,"color":"#fff"},{"offset":0.925,"color":"#fff"},{"offset":0.925,"color":"#000"},{"offset":0.928,"color":"#fff"},{"offset":0.95,"color":"#fff"},{"offset":0.95,"color":"#000"},{"offset":0.953,"color":"#fff"},{"offset":0.975,"color":"#fff"},{"offset":0.975,"color":"#000"},{"offset":0.978,"color":"#fff"},{"offset":1,"color":"#fff"}]}}},
{"transform":[{"filter":{"field":"k","equal":9}}],"mark":{"type":"area","interpolate":"linear","stroke":"black","strokeWidth":1.5,"blend":"multiply","fill":{"gradient":"linear","x1":0,"y1":0,"x2":0.714,"y2":1.174,"stops":[
{"offset":0,"color":"#000"},{"offset":0.003,"color":"#fff"},{"offset":0.025,"color":"#fff"},{"offset":0.025,"color":"#000"},{"offset":0.028,"color":"#fff"},{"offset":0.05,"color":"#fff"},{"offset":0.05,"color":"#000"},{"offset":0.053,"color":"#fff"},{"offset":0.075,"color":"#fff"},{"offset":0.075,"color":"#000"},{"offset":0.078,"color":"#fff"},{"offset":0.1,"color":"#fff"},{"offset":0.1,"color":"#000"},{"offset":0.103,"color":"#fff"},{"offset":0.125,"color":"#fff"},{"offset":0.125,"color":"#000"},{"offset":0.128,"color":"#fff"},{"offset":0.15,"color":"#fff"},{"offset":0.15,"color":"#000"},{"offset":0.153,"color":"#fff"},{"offset":0.175,"color":"#fff"},{"offset":0.175,"color":"#000"},{"offset":0.178,"color":"#fff"},{"offset":0.2,"color":"#fff"},{"offset":0.2,"color":"#000"},{"offset":0.203,"color":"#fff"},{"offset":0.225,"color":"#fff"},{"offset":0.225,"color":"#000"},{"offset":0.228,"color":"#fff"},{"offset":0.25,"color":"#fff"},{"offset":0.25,"color":"#000"},{"offset":0.253,"color":"#fff"},{"offset":0.275,"color":"#fff"},{"offset":0.275,"color":"#000"},{"offset":0.278,"color":"#fff"},{"offset":0.3,"color":"#fff"},{"offset":0.3,"color":"#000"},{"offset":0.303,"color":"#fff"},{"offset":0.325,"color":"#fff"},{"offset":0.325,"color":"#000"},{"offset":0.328,"color":"#fff"},{"offset":0.35,"color":"#fff"},{"offset":0.35,"color":"#000"},{"offset":0.353,"color":"#fff"},{"offset":0.375,"color":"#fff"},{"offset":0.375,"color":"#000"},{"offset":0.378,"color":"#fff"},{"offset":0.4,"color":"#fff"},{"offset":0.4,"color":"#000"},{"offset":0.403,"color":"#fff"},{"offset":0.425,"color":"#fff"},{"offset":0.425,"color":"#000"},{"offset":0.428,"color":"#fff"},{"offset":0.45,"color":"#fff"},{"offset":0.45,"color":"#000"},{"offset":0.453,"color":"#fff"},{"offset":0.475,"color":"#fff"},{"offset":0.475,"color":"#000"},{"offset":0.478,"color":"#fff"},{"offset":0.5,"color":"#fff"},{"offset":0.5,"color":"#000"},{"offset":0.503,"color":"#fff"},{"offset":0.525,"color":"#fff"},{"offset":0.525,"color":"#000"},{"offset":0.528,"color":"#fff"},{"offset":0.55,"color":"#fff"},{"offset":0.55,"color":"#000"},{"offset":0.553,"color":"#fff"},{"offset":0.575,"color":"#fff"},{"offset":0.575,"color":"#000"},{"offset":0.578,"color":"#fff"},{"offset":0.6,"color":"#fff"},{"offset":0.6,"color":"#000"},{"offset":0.603,"color":"#fff"},{"offset":0.625,"color":"#fff"},{"offset":0.625,"color":"#000"},{"offset":0.628,"color":"#fff"},{"offset":0.65,"color":"#fff"},{"offset":0.65,"color":"#000"},{"offset":0.653,"color":"#fff"},{"offset":0.675,"color":"#fff"},{"offset":0.675,"color":"#000"},{"offset":0.678,"color":"#fff"},{"offset":0.7,"color":"#fff"},{"offset":0.7,"color":"#000"},{"offset":0.703,"color":"#fff"},{"offset":0.725,"color":"#fff"},{"offset":0.725,"color":"#000"},{"offset":0.728,"color":"#fff"},{"offset":0.75,"color":"#fff"},{"offset":0.75,"color":"#000"},{"offset":0.753,"color":"#fff"},{"offset":0.775,"color":"#fff"},{"offset":0.775,"color":"#000"},{"offset":0.778,"color":"#fff"},{"offset":0.8,"color":"#fff"},{"offset":0.8,"color":"#000"},{"offset":0.803,"color":"#fff"},{"offset":0.825,"color":"#fff"},{"offset":0.825,"color":"#000"},{"offset":0.828,"color":"#fff"},{"offset":0.85,"color":"#fff"},{"offset":0.85,"color":"#000"},{"offset":0.853,"color":"#fff"},{"offset":0.875,"color":"#fff"},{"offset":0.875,"color":"#000"},{"offset":0.878,"color":"#fff"},{"offset":0.9,"color":"#fff"},{"offset":0.9,"color":"#000"},{"offset":0.903,"color":"#fff"},{"offset":0.925,"color":"#fff"},{"offset":0.925,"color":"#000"},{"offset":0.928,"color":"#fff"},{"offset":0.95,"color":"#fff"},{"offset":0.95,"color":"#000"},{"offset":0.953,"color":"#fff"},{"offset":0.975,"color":"#fff"},{"offset":0.975,"color":"#000"},{"offset":0.978,"color":"#fff"},{"offset":1,"color":"#fff"}]}}}
]
},
{
"width":30,"height":581,
"data":{"name":"leg"},
"encoding":{"y":{"field":"s","type":"nominal","sort":["Eastern edge","C.I. b-reefs","Kit.Shls r-flat","Northern f-reef","North Reefs","S.D.H. bkr-ldge","Northeast 8-12 fa","C.I. inside B.L.","East Ledge Flat"],"scale":{"paddingInner":0.616,"paddingOuter":0.099},"axis":null}},
"layer":[
{"transform":[{"filter":{"field":"k","oneOf":[1,7]}}],"mark":{"type":"rect","stroke":"black","strokeWidth":1.5,"fill":{"gradient":"linear","x1":0,"y1":1,"x2":1.066,"y2":0.076,"stops":[
{"offset":0,"color":"#000"},{"offset":0.04,"color":"#fff"},{"offset":0.25,"color":"#fff"},{"offset":0.25,"color":"#000"},{"offset":0.29,"color":"#fff"},{"offset":0.5,"color":"#fff"},{"offset":0.5,"color":"#000"},{"offset":0.54,"color":"#fff"},{"offset":0.75,"color":"#fff"},{"offset":0.75,"color":"#000"},{"offset":0.79,"color":"#fff"},{"offset":1,"color":"#fff"}]}}},
{"transform":[{"filter":{"field":"k","oneOf":[2,8,6]}}],"mark":{"type":"rect","stroke":"black","strokeWidth":1.5,"fill":{"gradient":"linear","x1":0,"y1":0,"x2":1,"y2":0,"stops":[
{"offset":0,"color":"#000"},{"offset":0.05,"color":"#fff"},{"offset":0.25,"color":"#fff"},{"offset":0.25,"color":"#000"},{"offset":0.3,"color":"#fff"},{"offset":0.5,"color":"#fff"},{"offset":0.5,"color":"#000"},{"offset":0.55,"color":"#fff"},{"offset":0.75,"color":"#fff"},{"offset":0.75,"color":"#000"},{"offset":0.8,"color":"#fff"},{"offset":1,"color":"#fff"}]}}},
{"transform":[{"filter":{"field":"k","oneOf":[4,6]}}],"mark":{"type":"rect","stroke":"black","strokeWidth":1.5,"blend":"multiply","fill":{"gradient":"linear","x1":0,"y1":0,"x2":0,"y2":1,"stops":[
{"offset":0,"color":"#000"},{"offset":0.05,"color":"#fff"},{"offset":0.333,"color":"#fff"},{"offset":0.333,"color":"#000"},{"offset":0.383,"color":"#fff"},{"offset":0.667,"color":"#fff"},{"offset":0.667,"color":"#000"},{"offset":0.717,"color":"#fff"},{"offset":1,"color":"#fff"}]}}},
{"transform":[{"filter":{"field":"k","oneOf":[3,9]}}],"mark":{"type":"rect","stroke":"black","strokeWidth":1.5,"fill":{"gradient":"linear","x1":0,"y1":1,"x2":1.066,"y2":0.076,"stops":[
{"offset":0,"color":"#000"},{"offset":0.05,"color":"#fff"},{"offset":0.333,"color":"#fff"},{"offset":0.333,"color":"#000"},{"offset":0.383,"color":"#fff"},{"offset":0.667,"color":"#fff"},{"offset":0.667,"color":"#000"},{"offset":0.717,"color":"#fff"},{"offset":1,"color":"#fff"}]}}},
{"transform":[{"filter":{"field":"k","oneOf":[3,9,5]}}],"mark":{"type":"rect","stroke":"black","strokeWidth":1.5,"blend":"multiply","fill":{"gradient":"linear","x1":0,"y1":0,"x2":1.066,"y2":0.924,"stops":[
{"offset":0,"color":"#000"},{"offset":0.05,"color":"#fff"},{"offset":0.333,"color":"#fff"},{"offset":0.333,"color":"#000"},{"offset":0.383,"color":"#fff"},{"offset":0.667,"color":"#fff"},{"offset":0.667,"color":"#000"},{"offset":0.717,"color":"#fff"},{"offset":1,"color":"#fff"}]}}},
{"mark":{"type":"text","align":"left","baseline":"middle","dx":-13,"dy":32,"fontSize":16,"font":"Liberation Mono","color":"black"},"encoding":{"text":{"field":"s"}}}
]
}
]
}
